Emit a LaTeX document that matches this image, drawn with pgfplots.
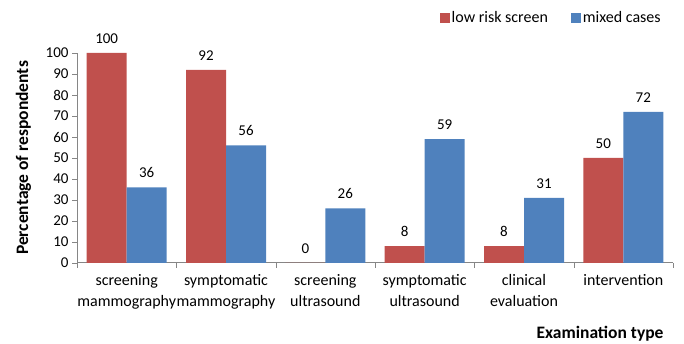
\documentclass[border=0pt]{standalone}
\usepackage{fontspec}
\setmainfont{Carlito}
\usepackage{pgfplots}
\pgfplotsset{compat=1.18}
\definecolor{lowrisk}{HTML}{C0504D}
\definecolor{mixed}{HTML}{4F81BD}
\definecolor{axisgray}{HTML}{868686}
\begin{document}
\begin{tikzpicture}
\path[use as bounding box] (0pt,0pt) rectangle (684pt,344pt);
\begin{axis}[
  at={(77pt,81pt)}, anchor=south west,
  scale only axis, width=596pt, height=210pt,
  ybar=0pt, bar width=40pt,
  xmin=-0.5, xmax=5.5, ymin=0, ymax=100,
  ytick={0,10,...,100},
  xtick={0,...,5},
  xticklabels={{screening\\mammography},{symptomatic\\mammography},{screening\\ultrasound},{symptomatic\\ultrasound},{clinical\\evaluation},{intervention}},
  x tick label style={align=center, font=\fontsize{16}{21}\selectfont, yshift=-3pt},
  major x tick style={draw=none},
  minor xtick={-0.5,0.5,...,5.5},
  minor x tick style={draw=axisgray},
  minor tick length=5pt,
  y tick label style={font=\fontsize{15}{18}\selectfont},
  major tick length=5pt,
  tick align=outside,
  tick pos=left,
  axis x line*=bottom, axis y line*=left,
  axis line style={draw=axisgray, line width=1pt},
  ytick style={draw=axisgray},
  /pgf/number format/assume math mode=true,
  ylabel={\bfseries Percentage of respondents},
  ylabel style={font=\fontsize{17.5}{20}\selectfont, at={(axis description cs:-0.090,0.5)}, anchor=center},
  xlabel={\bfseries Examination type},
  xlabel style={font=\fontsize{17.5}{20}\selectfont, at={(axis description cs:0.99,-0.338)}, anchor=east},
  nodes near coords,
  nodes near coords style={font=\fontsize{15}{18}\selectfont, yshift=6pt},
  legend columns=2,
  legend style={draw=none, fill=none, at={(axis description cs:0.988,1.167)}, anchor=east,
    font=\fontsize{16}{19}\selectfont,
    /tikz/every even column/.append style={column sep=21pt}},
  legend image code/.code={\fill[#1] (2pt,-5pt) rectangle (12pt,5pt);},
]
\addplot[fill=lowrisk, draw=none] coordinates {(0,100) (1,92) (2,0) (3,8) (4,8) (5,50)};
\addplot[fill=mixed, draw=none] coordinates {(0,36) (1,56) (2,26) (3,59) (4,31) (5,72)};
\legend{low risk screen, mixed cases}
\end{axis}
\end{tikzpicture}
\end{document}
